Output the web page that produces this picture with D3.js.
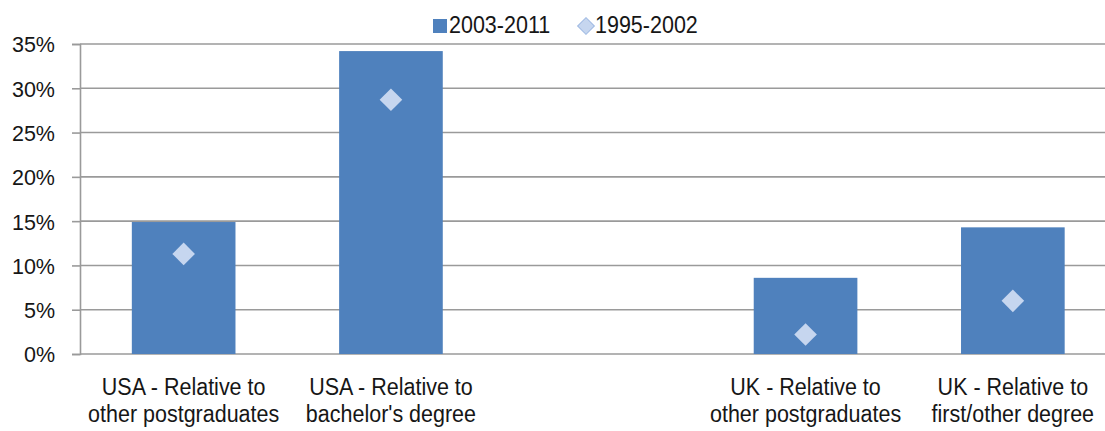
<!DOCTYPE html>
<html><head><meta charset="utf-8">
<script src="https://cdn.jsdelivr.net/npm/d3@7"></script>
<style>
html,body{margin:0;padding:0;background:#fff;}
svg{display:block;font-family:"Liberation Sans",Arial,sans-serif;}
</style></head>
<body>
<svg id="chart" width="1105" height="431"></svg>
<script>
const categories = [
  ["USA - Relative to","other postgraduates"],
  ["USA - Relative to","bachelor's degree"],
  ["",""],
  ["UK - Relative to","other postgraduates"],
  ["UK - Relative to","first/other degree"]
];
const series2003_2011 = [0.149, 0.342, null, 0.086, 0.143];
const series1995_2002 = [0.113, 0.287, null, 0.022, 0.060];
const yTicks = [0,0.05,0.10,0.15,0.20,0.25,0.30,0.35];
const legendLabels = ["2003-2011","1995-2002"];

(function(){
const svg = d3.select("#chart");
const mLeft = 80, mTop = 44, mBottom = 354;
const step = 207.3;
const x = d3.scaleBand().domain(d3.range(categories.length))
  .range([mLeft, mLeft + step*categories.length]).paddingInner(0.5).paddingOuter(0.25);
const y = d3.scaleLinear().domain([0,0.35]).range([mBottom, mTop]);

const barColor = "#4f81bd", diaColor = "#c6d6ef", gridColor = "#9a9a9a", txt = "#161616";

// gridlines
svg.append("g").selectAll("line").data(yTicks).join("line")
  .attr("x1", mLeft).attr("x2", 1105)
  .attr("y1", d=>y(d)).attr("y2", d=>y(d))
  .attr("stroke", gridColor).attr("stroke-width", 1.6);

// y axis
const yAxis = d3.axisLeft(y).tickValues(yTicks).tickFormat(d3.format(".0%")).tickSize(8).tickPadding(17);
const ya = svg.append("g").attr("transform", `translate(${mLeft},0)`).call(yAxis);
ya.select(".domain").attr("stroke", gridColor).attr("stroke-width", 1.6);
ya.selectAll(".tick line").attr("stroke", gridColor).attr("stroke-width", 1.6);
ya.selectAll(".tick text").attr("font-size", 21.5).attr("fill", txt)
  .attr("font-family", "Liberation Sans, Arial, sans-serif")
  .attr("dy", "0.37em");

// bars
svg.append("g").selectAll("rect").data(series2003_2011.map((v,i)=>({v,i})).filter(d=>d.v!=null)).join("rect")
  .attr("x", d=>x(d.i)).attr("width", x.bandwidth())
  .attr("y", d=>y(d.v)).attr("height", d=>mBottom - y(d.v))
  .attr("fill", barColor);

// diamonds
const dia = d3.symbol().type(d3.symbolSquare).size(256);
svg.append("g").selectAll("path").data(series1995_2002.map((v,i)=>({v,i})).filter(d=>d.v!=null)).join("path")
  .attr("d", dia)
  .attr("transform", d=>`translate(${x(d.i)+x.bandwidth()/2},${y(d.v)}) rotate(45)`)
  .attr("fill", diaColor);

// x labels (slightly stretched vertically like the reference rendering)
const sy = 1.15;
const xl = svg.append("g").selectAll("text").data(categories.map((c,i)=>({c,i})).filter(d=>d.c[0])).join("text")
  .attr("transform", d=>`translate(${x(d.i)+x.bandwidth()/2},395) scale(1,${sy})`)
  .attr("text-anchor","middle").attr("font-size", 21.5).attr("fill",txt);
xl.append("tspan").attr("x", 0).attr("y", 0).text(d=>d.c[0]);
xl.append("tspan").attr("x", 0).attr("dy", 27/sy).text(d=>d.c[1]);

// legend
const lg = svg.append("g");
lg.append("rect").attr("x", 433).attr("y", 19).attr("width", 14).attr("height", 14).attr("fill", barColor);
lg.append("text").attr("transform","translate(449,33) scale(1,1.1)").attr("font-size", 21.5).attr("fill",txt).text(legendLabels[0]);
lg.append("path").attr("d", d3.symbol().type(d3.symbolSquare).size(140))
  .attr("transform","translate(586,26) rotate(45)").attr("fill", diaColor).attr("stroke","#9db8e2").attr("stroke-width",1);
lg.append("text").attr("transform","translate(595,33) scale(1,1.1)").attr("font-size", 21.5).attr("fill",txt).text(legendLabels[1]);
})();
</script>
</body></html>
